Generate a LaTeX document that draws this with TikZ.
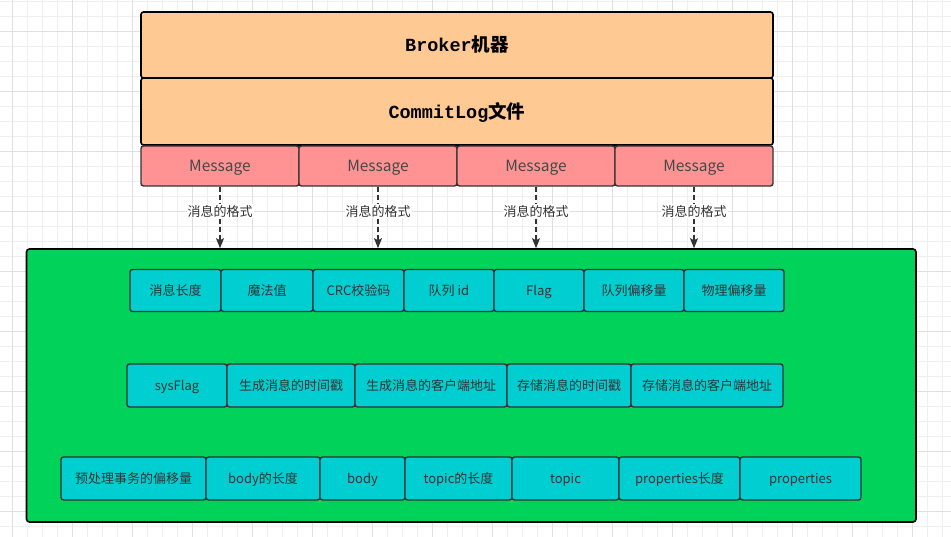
\documentclass[tikz,border=0pt]{standalone}
\usepackage{fontspec}
\setmainfont{Noto Sans CJK SC}
\newfontfamily\monofont{Liberation Mono}
\usepackage{xcolor}
\usetikzlibrary{arrows.meta,calc}

\definecolor{brokerfill}{HTML}{FFC993}
\definecolor{msgfill}{HTML}{FF9393}
\definecolor{framefill}{HTML}{00D25A}
\definecolor{fieldfill}{HTML}{00CED1}
\definecolor{edgegray}{HTML}{333333}
\definecolor{gridminor}{HTML}{EFEFEF}
\definecolor{gridmajor}{HTML}{E0E0E0}

\tikzset{
  topbox/.style={draw=black, line width=1.6pt, rounded corners=2.5pt, fill=brokerfill,
    minimum width=632pt, inner sep=0pt, text height=14pt, text depth=0pt,
    font=\fontsize{18.5}{20}\selectfont\bfseries},
  msgbox/.style={draw=edgegray, line width=1.4pt, rounded corners=2.5pt, fill=msgfill,
    minimum width=158pt, minimum height=40pt, inner sep=0pt, text=edgegray!90,
    text height=11.2pt, text depth=0pt, font=\fontsize{15.5}{17}\selectfont},
  fieldbox/.style={draw=edgegray, line width=1.4pt, rounded corners=2.5pt, fill=fieldfill,
    inner sep=0pt, text=edgegray, text height=10.5pt, text depth=0pt,
    font=\fontsize{13}{15}\selectfont},
  fmtarrow/.style={draw=edgegray, line width=1.4pt, dash pattern=on 5pt off 3pt,
    -{Stealth[length=10pt,width=8pt,inset=2pt]}},
  fmtlabel/.style={fill=white, text=edgegray, inner sep=1pt, font=\fontsize{13}{15}\selectfont}
}

\begin{document}
\begin{tikzpicture}[x=1pt,y=-1pt]
  \useasboundingbox (0,0) rectangle (951,537);
  \clip (0,0) rectangle (951,537);
  % background grid
  \fill[white] (0,0) rectangle (951,537);
  \foreach \gx in {12.7,27.7,...,951} \draw[gridminor, line width=0.8pt] (\gx,0) -- (\gx,537);
  \foreach \gy in {1.7,16.7,...,537} \draw[gridminor, line width=0.8pt] (0,\gy) -- (951,\gy);
  \foreach \gx in {12.7,72.7,...,951} \draw[gridmajor, line width=0.8pt] (\gx,0) -- (\gx,537);
  \foreach \gy in {31.7,91.7,...,537} \draw[gridmajor, line width=0.8pt] (0,\gy) -- (951,\gy);

  % broker and commitlog
  \node[topbox, minimum height=66pt] (broker) at (457,45) {{\monofont Broker}机器};
  \node[topbox, minimum height=67pt] (commitlog) at (457,111.5) {{\monofont CommitLog}文件};

  % messages
  \node[msgbox] (m1) at (220,166) {Message};
  \node[msgbox] (m2) at (378,166) {Message};
  \node[msgbox] (m3) at (536,166) {Message};
  \node[msgbox] (m4) at (694,166) {Message};

  % message format frame
  \node[draw=black, line width=1.6pt, rounded corners=3pt, fill=framefill,
    minimum width=889.5pt, minimum height=273pt] (frame) at (471.25,385.5) {};

  % first row
  \node[fieldbox, minimum width=91pt, minimum height=42pt] (len) at (175.5,290.5) {消息长度};
  \node[fieldbox, minimum width=92pt, minimum height=42pt] (magic) at (267,290.5) {魔法值};
  \node[fieldbox, minimum width=91pt, minimum height=42pt] (crc) at (358.5,290.5) {CRC校验码};
  \node[fieldbox, minimum width=90pt, minimum height=42pt] (qid) at (449,290.5) {队列 id};
  \node[fieldbox, minimum width=90pt, minimum height=42pt] (flag) at (539,290.5) {Flag};
  \node[fieldbox, minimum width=100pt, minimum height=42pt] (qoff) at (634,290.5) {队列偏移量};
  \node[fieldbox, minimum width=100pt, minimum height=42pt] (poff) at (734,290.5) {物理偏移量};

  % second row
  \node[fieldbox, minimum width=100pt, minimum height=43pt] (sysflag) at (177,385.5) {sysFlag};
  \node[fieldbox, minimum width=128pt, minimum height=43pt] (borntime) at (291,385.5) {生成消息的时间戳};
  \node[fieldbox, minimum width=152pt, minimum height=43pt] (bornhost) at (431,385.5) {生成消息的客户端地址};
  \node[fieldbox, minimum width=124pt, minimum height=43pt] (storetime) at (569,385.5) {存储消息的时间戳};
  \node[fieldbox, minimum width=152pt, minimum height=43pt] (storehost) at (707,385.5) {存储消息的客户端地址};

  % third row
  \node[fieldbox, minimum width=145pt, minimum height=43pt] (prepoff) at (133.5,478.5) {预处理事务的偏移量};
  \node[fieldbox, minimum width=114pt, minimum height=43pt] (bodylen) at (263,478.5) {body的长度};
  \node[fieldbox, minimum width=85pt, minimum height=43pt] (body) at (362.5,478.5) {body};
  \node[fieldbox, minimum width=107pt, minimum height=43pt] (topiclen) at (458.5,478.5) {topic的长度};
  \node[fieldbox, minimum width=107pt, minimum height=43pt] (topic) at (565.5,478.5) {topic};
  \node[fieldbox, minimum width=121pt, minimum height=43pt] (proplen) at (679.5,478.5) {properties长度};
  \node[fieldbox, minimum width=121pt, minimum height=43pt] (props) at (800.5,478.5) {properties};

  % format arrows
  \coordinate (t1) at (m1 |- frame.north);
  \coordinate (t2) at (m2 |- frame.north);
  \coordinate (t3) at (m3 |- frame.north);
  \coordinate (t4) at (m4 |- frame.north);
  \draw[fmtarrow] (m1) -- (t1) node[fmtlabel, pos=0.4] {消息的格式};
  \draw[fmtarrow] (m2) -- (t2) node[fmtlabel, pos=0.4] {消息的格式};
  \draw[fmtarrow] (m3) -- (t3) node[fmtlabel, pos=0.4] {消息的格式};
  \draw[fmtarrow] (m4) -- (t4) node[fmtlabel, pos=0.4] {消息的格式};
\end{tikzpicture}
\end{document}
